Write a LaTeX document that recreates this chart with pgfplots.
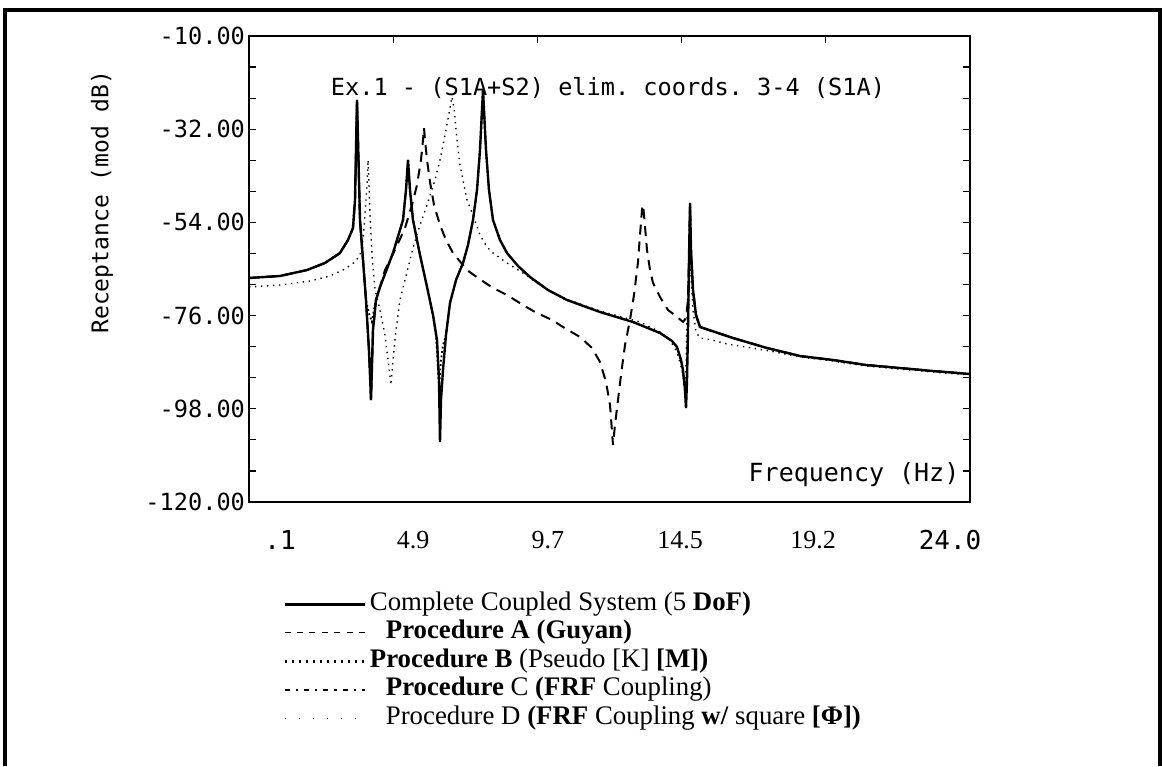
\documentclass[border=0pt]{standalone}
\usepackage{fontspec}
\setmainfont{Liberation Serif}
\setmonofont{DejaVu Sans Mono}
\usepackage{pgfplots}
\pgfplotsset{compat=1.18}

\pgfplotstableread{
x y
0.100 -67.12
1.128 -66.65
2.023 -65.24
2.619 -63.58
3.116 -61.22
3.382 -58.15
3.547 -55.32
3.614 -48.71
3.647 -36.91
3.680 -25.11
3.713 -34.55
3.746 -43.99
3.779 -53.43
3.879 -62.88
3.978 -72.32
4.077 -84.12
4.144 -95.92
4.210 -79.40
4.310 -72.32
4.442 -69.25
4.873 -61.22
5.205 -53.43
5.304 -46.35
5.371 -39.27
5.437 -46.35
5.536 -53.43
5.768 -61.69
6.002 -69.25
6.199 -75.86
6.332 -81.76
6.398 -91.20
6.431 -105.84
6.464 -95.92
6.531 -88.84
6.630 -80.58
6.763 -73.03
6.962 -67.60
7.194 -63.58
7.360 -59.33
7.525 -53.43
7.658 -46.35
7.757 -36.91
7.857 -22.75
7.956 -36.91
8.055 -46.35
8.188 -53.43
8.420 -58.15
8.652 -61.22
9.017 -64.29
9.415 -66.89
10.012 -69.96
10.641 -72.32
11.735 -75.15
12.829 -77.51
13.724 -80.11
14.122 -81.99
14.287 -83.41
14.420 -86.48
14.486 -88.84
14.552 -93.56
14.586 -97.81
14.619 -91.20
14.652 -79.40
14.685 -62.88
14.719 -49.42
14.752 -60.51
14.818 -69.96
14.917 -75.86
15.050 -78.69
16.144 -81.29
17.271 -83.65
18.365 -85.54
19.458 -86.48
20.552 -87.66
21.679 -88.37
22.773 -89.08
24.000 -89.79
}\complete

\pgfplotstableread{
x y
0.100 -67.12
1.128 -66.65
2.023 -65.24
2.619 -63.58
3.116 -61.22
3.382 -58.15
3.547 -55.32
3.614 -48.71
3.647 -36.91
3.680 -25.11
3.713 -34.55
3.746 -43.99
3.779 -53.43
3.879 -62.88
3.978 -72.32
4.077 -84.12
4.144 -95.92
4.210 -79.40
4.310 -72.32
4.442 -69.25
4.608 -65.24
4.940 -60.51
5.271 -55.32
5.503 -49.89
5.669 -45.17
5.801 -39.27
5.868 -34.55
5.901 -31.72
5.934 -34.55
6.002 -39.27
6.100 -44.46
6.233 -49.89
6.431 -54.61
6.630 -58.15
6.862 -61.22
7.326 -65.24
7.690 -67.12
8.188 -69.48
8.652 -71.14
9.182 -73.50
9.580 -75.15
10.144 -77.04
10.508 -78.69
11.072 -81.05
11.470 -83.65
11.735 -86.95
11.934 -91.67
12.067 -97.10
12.166 -106.54
12.232 -101.82
12.332 -95.92
12.431 -90.02
12.564 -82.94
12.729 -77.04
12.862 -71.14
12.995 -63.35
13.061 -56.97
13.127 -51.07
13.161 -49.89
13.194 -52.25
13.293 -60.51
13.393 -65.24
13.492 -68.30
13.724 -71.61
13.989 -74.68
14.254 -76.09
14.486 -77.51
14.586 -76.57
14.652 -72.32
14.685 -62.88
14.719 -51.07
14.752 -60.51
14.818 -69.96
14.917 -75.86
15.050 -78.69
16.144 -81.29
17.271 -83.65
18.365 -85.54
19.458 -86.48
20.552 -87.66
21.679 -88.37
22.773 -89.08
24.000 -89.79
}\procA

\pgfplotstableread{
x y
0.100 -67.12
1.128 -66.65
2.023 -65.24
2.619 -63.58
3.116 -61.22
3.382 -58.15
3.547 -55.32
3.614 -48.71
3.647 -36.91
3.680 -25.11
3.713 -34.55
3.746 -43.99
3.779 -53.43
3.879 -62.88
3.978 -72.32
4.078 -75.50
4.177 -77.51
4.243 -74.50
4.310 -72.32
4.442 -69.25
4.873 -61.22
5.205 -53.43
5.304 -46.35
5.371 -39.27
5.437 -46.35
5.536 -53.43
5.768 -61.69
6.002 -69.25
6.199 -75.86
6.298 -80.58
6.398 -92.85
6.464 -86.48
6.531 -82.94
6.630 -80.58
6.763 -73.03
6.962 -67.60
7.194 -63.58
7.360 -59.33
7.525 -53.43
7.658 -46.35
7.757 -36.91
7.857 -22.75
7.956 -36.91
8.055 -46.35
8.188 -53.43
8.420 -58.15
8.652 -61.22
9.017 -64.29
9.415 -66.89
10.012 -69.96
10.641 -72.32
11.735 -75.15
12.829 -77.51
13.724 -80.11
14.122 -81.99
14.287 -83.41
14.420 -86.48
14.519 -91.20
14.586 -94.74
14.619 -88.84
14.652 -79.40
14.685 -62.88
14.719 -49.42
14.752 -60.51
14.818 -69.96
14.917 -75.86
15.050 -78.69
16.144 -81.29
17.271 -83.65
18.365 -85.54
19.458 -86.48
20.552 -87.66
21.679 -88.37
22.773 -89.08
24.000 -89.79
}\procB

\pgfplotstableread{
x y
0.100 -69.25
1.128 -68.78
2.122 -67.83
2.785 -66.65
3.282 -65.00
3.614 -63.35
3.779 -61.69
3.879 -58.15
3.945 -52.25
4.011 -45.17
4.045 -39.27
4.078 -45.17
4.111 -52.25
4.177 -61.69
4.277 -69.96
4.442 -74.68
4.608 -80.58
4.708 -86.48
4.807 -92.38
4.873 -86.48
4.973 -79.40
5.105 -72.32
5.271 -67.60
5.536 -60.04
5.768 -54.61
6.002 -49.89
6.265 -43.99
6.431 -39.27
6.630 -32.19
6.763 -27.00
6.829 -24.40
6.896 -27.00
6.995 -34.55
7.094 -40.45
7.326 -48.71
7.525 -52.25
7.757 -56.97
7.989 -59.81
8.188 -61.22
8.652 -63.58
9.182 -65.94
9.746 -68.78
10.508 -71.85
11.735 -74.91
13.061 -77.51
13.724 -79.87
14.055 -81.76
14.287 -84.59
14.453 -88.84
14.552 -94.27
14.586 -88.84
14.619 -77.04
14.652 -69.96
14.685 -64.05
14.719 -61.69
14.752 -66.42
14.818 -74.68
14.917 -79.87
15.050 -81.29
15.448 -81.76
15.945 -82.70
16.376 -83.18
17.370 -84.36
18.365 -85.77
19.458 -86.72
20.552 -87.90
21.679 -88.61
22.773 -89.32
24.000 -90.02
}\procD

\begin{document}
\begin{tikzpicture}
\useasboundingbox (0,0) rectangle (581pt,383pt);
\draw[line width=2pt] (2.5pt,0) -- (2.5pt,378pt) -- (580pt,378pt) -- (580pt,0);
\begin{axis}[
  at={(124.5pt,132pt)}, anchor=south west,
  scale only axis, width=360.5pt, height=233pt,
  xmin=0.1, xmax=24, ymin=-120, ymax=-10,
  axis line style={line width=0.9pt},
  xtick={4.88,9.66,14.44,19.22}, xticklabels={},
  xtick pos=right, xticklabel pos=left,
  extra x ticks={1.13,5.54,10.01,14.39,18.8,23.34},
  extra x tick labels={{\ttfamily .1},4.9,9.7,14.5,19.2,{\ttfamily 24.0}},
  extra x tick style={major tick length=0pt},
  xticklabel style={font=\fontsize{13}{15}\selectfont, anchor=center, yshift=-19pt},
  ytick={-120,-98,-76,-54,-32,-10},
  yticklabels={-120.00,-98.00,-76.00,-54.00,-32.00,-10.00},
  minor ytick={-112.67,-105.33,-90.67,-83.33,-68.67,-61.33,-46.67,-39.33,-24.67,-17.33},
  ytick pos=both, tick align=inside,
  major tick length=3.5pt, minor tick length=3.5pt,
  tick style={line width=0.6pt, black},
  yticklabel style={font=\ttfamily\fontsize{11.8}{13}\selectfont, xshift=1.5pt},
  legend style={at={(0.047,-0.19)}, anchor=north west, draw=none, fill=none,
    inner sep=0pt, row sep=0.75pt, column sep=2pt,
    font=\fontsize{13.4}{15}\selectfont,
    nodes={inner sep=0pt, text height=9.6pt, text depth=3.9pt}},
  legend cell align=left,
  legend image code/.code={\draw[#1] (0pt,0pt) -- (40pt,0pt);},
]
\addlegendimage{line width=1.2pt}
\addlegendentry{Complete Coupled System (5 \textbf{DoF)}}
\addlegendimage{line width=0.5pt, dash pattern=on 3pt off 3.2pt}
\addlegendentry{\hspace{8pt}\textbf{Procedure A (Guyan)}}
\addlegendimage{line width=1.3pt, dash pattern=on 1.2pt off 2.3pt}
\addlegendentry{\textbf{Procedure B} (Pseudo [K] \textbf{[M])}}
\addlegendimage{line width=1.1pt, dash pattern=on 2.5pt off 3pt on 1.2pt off 3pt}
\addlegendentry{\hspace{8pt}\textbf{Procedure} C \textbf{(FRF} Coupling)}
\addlegendimage{line width=0.7pt, dash pattern=on 0.7pt off 6.3pt}
\addlegendentry{\hspace{8pt}Procedure D \textbf{(FRF} Coupling \textbf{w/} square \textbf{[Φ])}}

\addplot[forget plot, black, line width=0.7pt, dash pattern=on 0.7pt off 2.3pt] table {\procD};
\addplot[forget plot, black, line width=0.9pt, dash pattern=on 0.9pt off 1.3pt] table {\procB};
\addplot[forget plot, black, line width=1.0pt, dash pattern=on 5pt off 3.5pt] table {\procA};
\addplot[forget plot, black, line width=1.2pt] table {\complete};
\end{axis}
\node[font=\ttfamily\fontsize{11.8}{13}\selectfont] at (304pt,339pt) {Ex.1 - (S1A+S2) elim. coords. 3-4 (S1A)};
\node[font=\ttfamily\fontsize{12.5}{14}\selectfont] at (427pt,145.5pt) {Frequency (Hz)};
\node[rotate=90, font=\ttfamily\fontsize{11.5}{13}\selectfont] at (51pt,282pt) {Receptance (mod dB)};
\end{tikzpicture}
\end{document}
